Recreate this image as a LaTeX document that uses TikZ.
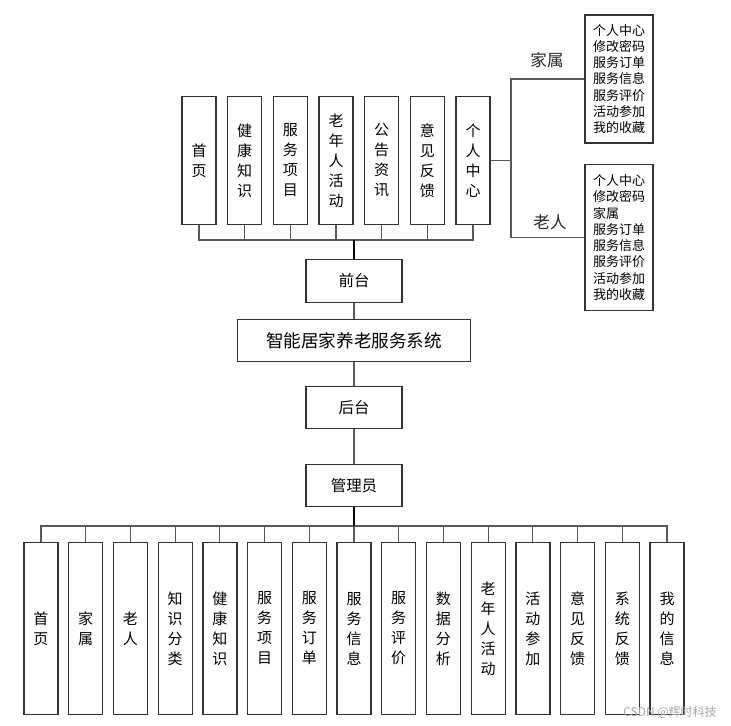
\documentclass[tikz,border=0pt]{standalone}
\usepackage{fontspec}
\setmainfont{Liberation Sans}
\newfontfamily\cjk{Noto Sans CJK SC}
\tikzset{
  box/.style={draw=black!80,line width=0.9pt,inner sep=0pt,align=center,font=\cjk\fontsize{11.25pt}{15pt}\selectfont},
  vbox/.style={box,minimum width=25.5pt,minimum height=95.5pt},
  bbox/.style={box,minimum width=25.5pt,minimum height=129.5pt},
  hbox/.style={box,minimum width=72pt,minimum height=32pt,font=\cjk\fontsize{11.6pt}{14pt}\selectfont},
  listbox/.style={draw=black!80,line width=0.9pt,inner sep=0pt,minimum width=51pt,align=left,font=\cjk\fontsize{9.75pt}{12.2pt}\selectfont},
  conn/.style={draw=black!65,line width=0.8pt},
  trunk/.style={draw=black,line width=1.3pt},
  lbl/.style={font=\cjk\fontsize{12.4pt}{14pt}\selectfont,text=black!85}
}
\begin{document}
\begin{tikzpicture}[x=0.75pt,y=-0.75pt]
\useasboundingbox (0,0) rectangle (731,725);
% top boxes
\node[vbox] (t1) at (199,160.5) {首\\页};
\node[vbox] (t2) at (244.7,160.5) {健\\康\\知\\识};
\node[vbox] (t3) at (290.3,160.5) {服\\务\\项\\目};
\node[vbox] (t4) at (336,160.5) {老\\年\\人\\活\\动};
\node[vbox] (t5) at (381.7,160.5) {公\\告\\资\\讯};
\node[vbox] (t6) at (427.3,160.5) {意\\见\\反\\馈};
\node[vbox] (t7) at (473,160.5) {个\\人\\中\\心};
% center column
\node[hbox] (qt) at (354,281) {前台};
\node[box,minimum width=175pt,minimum height=32pt,font=\cjk\fontsize{13.2pt}{15pt}\selectfont] (sys) at (354,340.5) {智能居家养老服务系统};
\node[hbox] (ht) at (354,407.5) {后台};
\node[hbox] (gly) at (354,485.5) {管理员};
% right side
\node[listbox,minimum height=96pt] (js) at (619,79) {个人中心\\修改密码\\服务订单\\服务信息\\服务评价\\活动参加\\我的收藏};
\node[listbox,minimum height=110pt] (lr) at (619,237.5) {个人中心\\修改密码\\家属\\服务订单\\服务信息\\服务评价\\活动参加\\我的收藏};
\node[lbl] (ljs) at (547,60) {家属};
\node[lbl] (llr) at (550,222) {老人};
\coordinate (rj) at (511,160.5);
\draw[conn] (t7.east) -- (rj);
\draw[conn] (rj) |- (js.west);
\draw[conn] (rj) |- (lr.west);
% top bus
\coordinate (tbus) at (336,240);
\draw[conn] (t1.south) -- (t1.south |- tbus) -- (t7.south |- tbus) -- (t7.south);
\foreach \i in {2,...,6} {\draw[conn] (t\i.south) -- (t\i.south |- tbus);}
\draw[trunk] (qt.north) -- (qt.north |- tbus);
% center links
\draw[conn] (qt.south) -- (sys.north);
\draw[conn] (sys.south) -- (ht.north);
\draw[conn] (ht.south) -- (gly.north);
% bottom boxes
\node[bbox] (b1) at (41,628.5) {首\\页};
\node[bbox] (b2) at (85.7,628.5) {家\\属};
\node[bbox] (b3) at (130.4,628.5) {老\\人};
\node[bbox] (b4) at (175.1,628.5) {知\\识\\分\\类};
\node[bbox] (b5) at (219.9,628.5) {健\\康\\知\\识};
\node[bbox] (b6) at (264.6,628.5) {服\\务\\项\\目};
\node[bbox] (b7) at (309.3,628.5) {服\\务\\订\\单};
\node[bbox] (b8) at (354,628.5) {服\\务\\信\\息};
\node[bbox] (b9) at (398.7,628.5) {服\\务\\评\\价};
\node[bbox] (b10) at (443.4,628.5) {数\\据\\分\\析};
\node[bbox] (b11) at (488.1,628.5) {老\\年\\人\\活\\动};
\node[bbox] (b12) at (532.9,628.5) {活\\动\\参\\加};
\node[bbox] (b13) at (577.6,628.5) {意\\见\\反\\馈};
\node[bbox] (b14) at (622.3,628.5) {系\\统\\反\\馈};
\node[bbox] (b15) at (667,628.5) {我\\的\\信\\息};
\coordinate (bbus) at (354,526);
\draw[conn] (b1.north) -- (b1.north |- bbus) -- (b15.north |- bbus) -- (b15.north);
\foreach \i in {2,...,14} {\draw[conn] (b\i.north) -- (b\i.north |- bbus);}
\draw[trunk] (gly.south) -- (bbus);
% watermark
\node[font=\cjk\fontsize{9pt}{10pt}\selectfont,text=black!35] (wm) at (670,712) {CSDN @辉时科技};
\end{tikzpicture}
\end{document}
